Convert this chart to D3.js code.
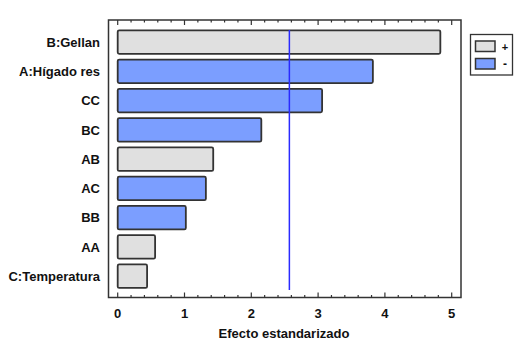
<!DOCTYPE html>
<html>
<head>
<meta charset="utf-8">
<script src="https://cdn.jsdelivr.net/npm/d3@7"></script>
<style>
  body { margin: 0; background: #fff; }
  svg { display: block; font-family: "Liberation Sans", Arial, sans-serif; }
  .lbl { font-size: 13px; font-weight: bold; fill: #111; }
</style>
</head>
<body>
<div id="chart"></div>
<script>
// Pareto chart of standardized effects
const factors = ["B:Gellan", "A:Hígado res", "CC", "BC", "AB", "AC", "BB", "AA", "C:Temperatura"];
const effects = [4.83, 3.82, 3.06, 2.15, 1.43, 1.32, 1.02, 0.56, 0.44];
const signs = ["+", "-", "-", "-", "+", "-", "-", "+", "+"];
const xTicks = [0, 1, 2, 3, 4, 5];
const critical = 2.57;
const legendItems = ["+", "-"];

const width = 527, height = 348;
const frame = { left: 108.5, right: 461, top: 20, bottom: 297.5 };

const fillFor = { "+": "#e0e0e0", "-": "#7b9eff" };

const svg = d3.select("#chart").append("svg")
    .attr("width", width)
    .attr("height", height);

const x = d3.scaleLinear().domain([0, 5]).range([117.7, 451.7]);
const y = d3.scaleBand().domain(factors)
    .range([27.4, 290.9])
    .paddingInner(0.197)
    .paddingOuter(0.1);

// frame
svg.append("rect")
    .attr("x", frame.left).attr("y", frame.top)
    .attr("width", frame.right - frame.left)
    .attr("height", frame.bottom - frame.top)
    .attr("fill", "none")
    .attr("stroke", "#333")
    .attr("stroke-width", 1.5);

// ticks top & bottom, pointing inward
const minor = d3.range(0, 5.001, 0.2);
minor.forEach(v => {
    const major = Math.abs(v - Math.round(v)) < 1e-6;
    const len = major ? 5 : 2.5;
    svg.append("line")
        .attr("x1", x(v)).attr("x2", x(v))
        .attr("y1", frame.bottom).attr("y2", frame.bottom - len)
        .attr("stroke", "#333").attr("stroke-width", 1.2);
    svg.append("line")
        .attr("x1", x(v)).attr("x2", x(v))
        .attr("y1", frame.top).attr("y2", frame.top + len)
        .attr("stroke", "#333").attr("stroke-width", 1.2);
});

// bottom tick labels
svg.selectAll(".xt")
    .data(xTicks)
    .join("text")
    .attr("class", "lbl")
    .attr("x", d => x(d))
    .attr("y", 318)
    .attr("text-anchor", "middle")
    .text(d => d);

svg.append("text")
    .attr("class", "lbl")
    .attr("x", 284)
    .attr("y", 338)
    .attr("text-anchor", "middle")
    .text("Efecto estandarizado");

// bars
factors.forEach((f, i) => {
    svg.append("rect")
        .attr("x", x(0))
        .attr("y", y(f))
        .attr("width", x(effects[i]) - x(0))
        .attr("height", y.bandwidth())
        .attr("rx", 1.5)
        .attr("fill", fillFor[signs[i]])
        .attr("stroke", "#333")
        .attr("stroke-width", 1.8);

    svg.append("text")
        .attr("class", "lbl")
        .attr("x", 100)
        .attr("y", y(f) + y.bandwidth() / 2 + 4.8)
        .attr("text-anchor", "end")
        .text(f);
});

// critical value line
svg.append("line")
    .attr("x1", x(critical)).attr("x2", x(critical))
    .attr("y1", 30).attr("y2", 290)
    .attr("stroke", "#2a2aff")
    .attr("stroke-width", 1.5);

// legend
const lg = svg.append("g");
lg.append("rect")
    .attr("x", 470.5).attr("y", 34.5)
    .attr("width", 42).attr("height", 40.5)
    .attr("fill", "#fff")
    .attr("stroke", "#333")
    .attr("stroke-width", 1.3);

legendItems.forEach((s, i) => {
    lg.append("rect")
        .attr("x", 475.5).attr("y", 41 + i * 17.5)
        .attr("width", 19.5).attr("height", 10.5)
        .attr("fill", fillFor[s])
        .attr("stroke", "#333")
        .attr("stroke-width", 1.5);
    lg.append("text")
        .attr("class", "lbl")
        .attr("x", 505)
        .attr("y", 50.5 + i * 17.5)
        .attr("text-anchor", "middle")
        .style("font-size", s === "+" ? "11px" : "12px")
        .text(s);
});
</script>
</body>
</html>
